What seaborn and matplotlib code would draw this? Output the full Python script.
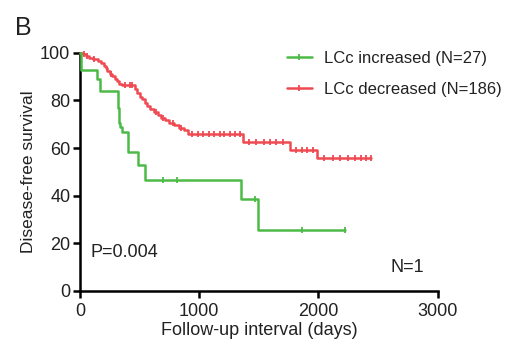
import numpy as np
import pandas as pd
import matplotlib
matplotlib.use("Agg")
import matplotlib.pyplot as plt
from matplotlib.lines import Line2D
import seaborn as sns

# ---- data ----
inc_time = [0, 8, 143, 168, 319, 330, 336, 352, 403, 487, 545, 1350, 1493, 2222]
inc_surv = [100, 92.6, 88.9, 84.0, 77.0, 70.5, 68.8, 66.7, 58.3, 52.7, 46.4, 38.4, 25.5, 25.5]
inc_cens = [698, 810, 1468, 1860, 2222]

dec_time = [0, 25, 50, 75, 110, 150, 180, 200, 215, 230, 250, 270, 290, 310, 330, 355,
            460, 480, 500, 520, 545, 565, 590, 620, 650, 680, 710, 745, 790, 830, 870,
            905, 1370, 1760, 1990, 2440]
dec_surv = [100, 99.3, 98.6, 97.9, 97.2, 96.5, 95.5, 94.5, 93.4, 92.3, 91.2, 90.1, 89.0,
            88.0, 87.0, 86.3, 84.8, 83.0, 81.6, 80.5, 79.0, 77.8, 76.2, 75.0, 73.8, 72.7,
            71.6, 70.6, 69.6, 68.6, 67.4, 65.8, 62.5, 59.2, 55.8, 55.8]
dec_cens = [30, 60, 120, 260, 380, 420, 440, 640, 700, 780, 850,
            940, 990, 1030, 1080, 1120, 1170, 1210, 1260, 1300, 1340,
            1420, 1480, 1540, 1590, 1640, 1700,
            1810, 1860, 1900, 1950,
            2050, 2120, 2180, 2250, 2310, 2360, 2400, 2440]

labels = ["LCc increased (N=27)", "LCc decreased (N=186)"]
x_ticks = [0, 1000, 2000, 3000]
y_ticks = [0, 20, 40, 60, 80, 100]

GREEN = "#4DBA48"
RED = "#EF4A52"
TXT = "#222222"
FS = 13

def surv_at(times, survs, t):
    idx = np.searchsorted(times, t, side="right") - 1
    return np.asarray(survs)[idx]

curves = pd.concat([
    pd.DataFrame({"t": inc_time, "s": inc_surv, "g": labels[0]}),
    pd.DataFrame({"t": dec_time, "s": dec_surv, "g": labels[1]}),
], ignore_index=True)
cens = pd.concat([
    pd.DataFrame({"t": inc_cens, "s": surv_at(inc_time, inc_surv, inc_cens), "g": labels[0]}),
    pd.DataFrame({"t": dec_cens, "s": surv_at(dec_time, dec_surv, dec_cens), "g": labels[1]}),
], ignore_index=True)

sns.set_style("ticks")
plt.rcParams["font.family"] = ["Liberation Sans", "DejaVu Sans"]

fig = plt.figure(figsize=(5.22, 3.44), dpi=100)
ax = fig.add_axes([0.1533, 0.1541, 0.6852, 0.6927])

palette = {labels[0]: GREEN, labels[1]: RED}
order = [labels[1], labels[0]]
for g in order:
    sub = curves[curves["g"] == g]
    sns.lineplot(data=sub, x="t", y="s", color=palette[g], lw=1.8, ax=ax,
                 estimator=None, sort=False, drawstyle="steps-post", clip_on=False,
                 legend=False, zorder=3)
    csub = cens[cens["g"] == g]
    sns.scatterplot(data=csub, x="t", y="s", marker="|", s=22, color=palette[g],
                    linewidth=1.3, ax=ax, legend=False, clip_on=False, zorder=3)

ax.set_xlim(0, 3000)
ax.set_ylim(0, 100)
ax.set_xticks(x_ticks)
ax.set_yticks(y_ticks)
ax.tick_params(axis="both", direction="out", length=5, width=1.8, color="black",
               labelsize=FS, labelcolor=TXT)
ax.tick_params(axis="x", pad=4)
ax.tick_params(axis="y", pad=2)
for side in ["top", "right"]:
    ax.spines[side].set_visible(False)
for side in ["left", "bottom"]:
    ax.spines[side].set_linewidth(1.8)
    ax.spines[side].set_color("black")
ax.set_xlabel("Follow-up interval (days)", fontsize=FS, color=TXT, labelpad=1)
ax.set_ylabel("Disease-free survival", fontsize=12.5, color=TXT, labelpad=3)

ax.text(90, 16, "P=0.004", fontsize=FS, color=TXT, va="center", ha="left")
ax.text(2600, 9.7, "N=1", fontsize=FS, color=TXT, va="center", ha="left")
fig.text(0.028, 0.92, "B", fontsize=18, color=TXT, va="center", ha="left")

handles = [Line2D([0], [0], color=GREEN, lw=1.8, marker="|", markersize=5, markeredgewidth=1.3),
           Line2D([0], [0], color=RED, lw=1.8, marker="|", markersize=5, markeredgewidth=1.3)]
leg = ax.legend(handles, labels, loc="upper left", bbox_to_anchor=(0.56, 1.035),
                frameon=False, fontsize=12, handlelength=1.5, handletextpad=0.7,
                labelspacing=0.95, borderaxespad=0)
for t in leg.get_texts():
    t.set_color(TXT)

fig.savefig("out.png", dpi=100)
